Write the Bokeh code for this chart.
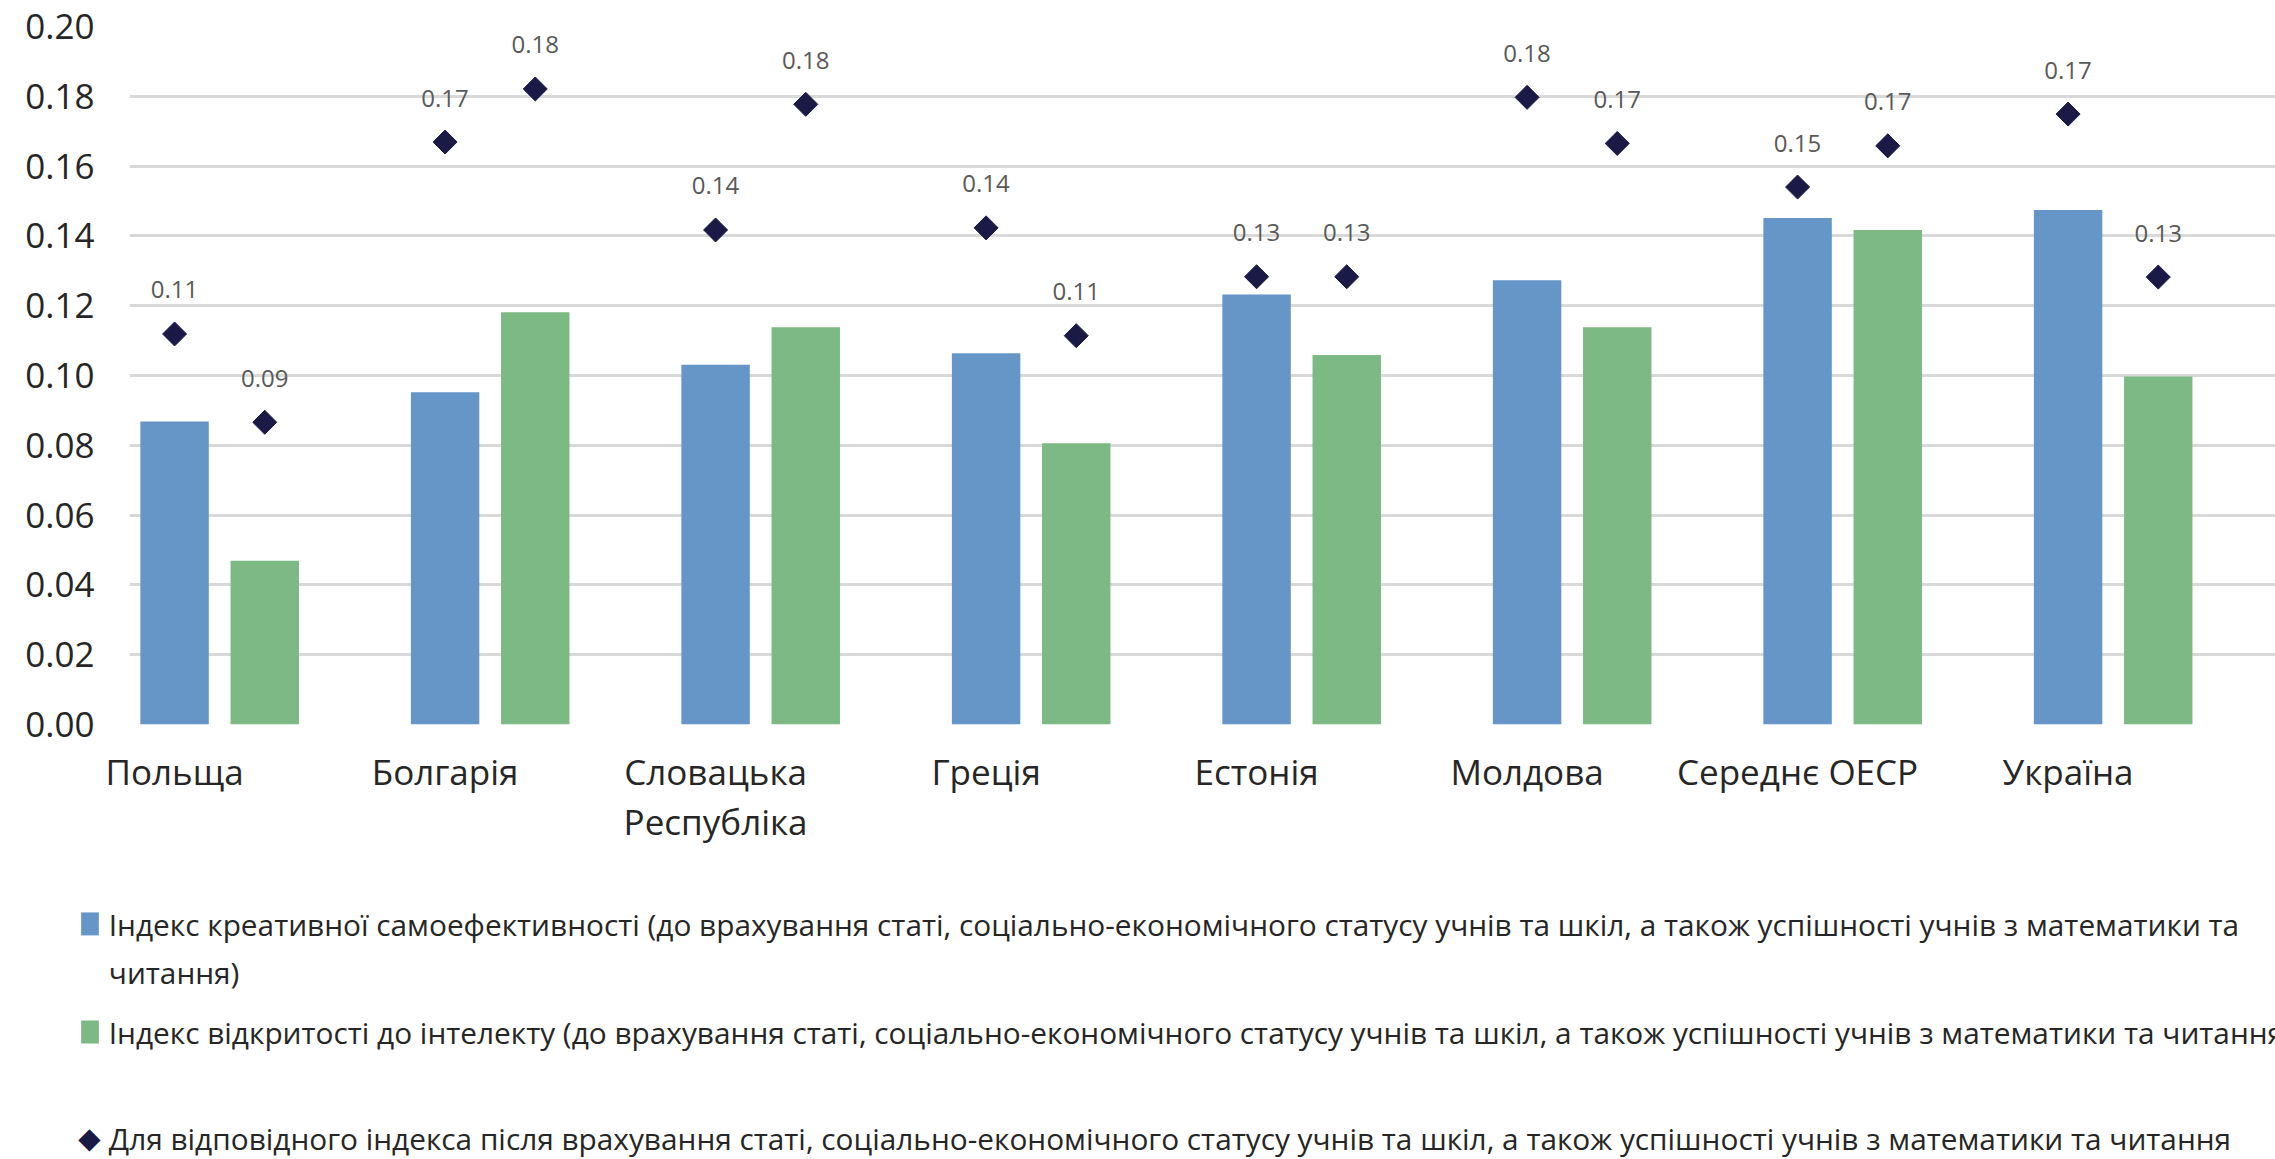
import math
from bokeh.plotting import figure
from bokeh.models import (Range1d, FixedTicker, NumeralTickFormatter, LinearAxis, Label)
from bokeh.embed import file_html
from bokeh.resources import INLINE
from bokeh.core.properties import value

# ---------------- data ----------------
categories = ["Польща", "Болгарія", "Словацька Республіка", "Греція",
              "Естонія", "Молдова", "Середнє ОЕСР", "Україна"]
creative_before = [0.0868, 0.0952, 0.1031, 0.1064, 0.1232, 0.1273, 0.1451, 0.1474]
openness_before = [0.0469, 0.1181, 0.1138, 0.0806, 0.1059, 0.1138, 0.1417, 0.0997]
creative_after = [0.1119, 0.1669, 0.1417, 0.1423, 0.1283, 0.1797, 0.1540, 0.1749]
openness_after = [0.0866, 0.1821, 0.1777, 0.1114, 0.1283, 0.1665, 0.1658, 0.1282]
y_ticks = [0.00, 0.02, 0.04, 0.06, 0.08, 0.10, 0.12, 0.14, 0.16, 0.18, 0.20]
legend_lines = [
    "Індекс креативної самоефективності (до врахування статі, соціально-економічного статусу учнів та шкіл, а також успішності учнів з математики та",
    "читання)",
    "Індекс відкритості до інтелекту (до врахування статі, соціально-економічного статусу учнів та шкіл, а також успішності учнів з математики та читання)",
    "Для відповідного індекса після врахування статі, соціально-економічного статусу учнів та шкіл, а також успішності учнів з математики та читання",
]

# ---------------- style ----------------
BLUE = "#6596c7"
GREEN = "#7db985"
NAVY = "#1b1a47"
GRID = "#d9d9d9"
TXT = "#262626"
LBL = "#595959"
FONT = "Open Sans"

W, H = 2275, 1159
LEFT, TOP, BOTTOM = 129, 26, 724          # frame edges in canvas pixels
PX_PER_CAT = 270.5
FRAME_W = W - LEFT
X0 = -1 / 6
Y_MAX = 0.20

n = len(categories)
xb = [i for i in range(n)]
xg = [i + 1 / 3 for i in range(n)]
BAR_W = 0.253

p = figure(frame_width=FRAME_W, frame_height=BOTTOM - TOP,
           output_backend="svg", toolbar_location=None,
           x_range=Range1d(X0, X0 + FRAME_W / PX_PER_CAT),
           y_range=Range1d(0, Y_MAX),
           min_border_left=LEFT, min_border_right=0, min_border_top=TOP,
           min_border_bottom=H - BOTTOM, x_axis_type=None)
p.outline_line_color = None
p.background_fill_color = "white"
p.border_fill_color = "white"


def dx(px):  # canvas pixel -> data x (layout helper for the legend)
    return X0 + (px - LEFT) / PX_PER_CAT


def dy(py):  # canvas pixel -> data y (layout helper for the legend)
    return (BOTTOM - py) * Y_MAX / (BOTTOM - TOP)


p.ygrid.ticker = FixedTicker(ticks=y_ticks)
p.ygrid.grid_line_color = GRID
p.ygrid.grid_line_width = 3
p.xgrid.visible = False

ya = p.yaxis[0]
ya.ticker = FixedTicker(ticks=y_ticks)
ya.formatter = NumeralTickFormatter(format="0.00")
ya.axis_line_color = None
ya.major_tick_line_color = None
ya.minor_tick_line_color = None
ya.major_tick_out = 0
ya.major_tick_in = 0
ya.major_label_standoff = 35
ya.major_label_text_font = FONT
ya.major_label_text_font_size = "35px"
ya.major_label_text_color = TXT

# category axis (first line) plus a second axis carrying the wrapped second line
first_lines = {i: (c.split(" ")[0] if c.startswith("Словацька") else c) for i, c in enumerate(categories)}
second_lines = {i: " ".join(c.split(" ")[1:]) for i, c in enumerate(categories) if c.startswith("Словацька")}

xa1 = LinearAxis(ticker=FixedTicker(ticks=list(range(n))), major_label_overrides=first_lines)
xa2 = LinearAxis(ticker=FixedTicker(ticks=list(second_lines.keys())), major_label_overrides=second_lines)
for ax, so in ((xa1, 23), (xa2, 0)):
    ax.axis_line_color = None
    ax.major_tick_line_color = None
    ax.minor_tick_line_color = None
    ax.major_tick_out = 0
    ax.major_tick_in = 0
    ax.major_label_standoff = so
    ax.major_label_text_font = FONT
    ax.major_label_text_font_size = "35px"
    ax.major_label_text_color = TXT
p.add_layout(xa1, "below")
p.add_layout(xa2, "below")

p.vbar(x=xb, top=creative_before, width=BAR_W, bottom=0, fill_color=BLUE, line_color=None)
p.vbar(x=xg, top=openness_before, width=BAR_W, bottom=0, fill_color=GREEN, line_color=None)

for xs, vals in ((xb, creative_after), (xg, openness_after)):
    p.scatter(x=xs, y=vals, marker="square", angle=math.pi / 4, size=17,
              fill_color=NAVY, line_color=NAVY)
    p.text(x=xs, y=vals, text=[f"{v:.2f}" for v in vals], text_align="center",
           text_baseline="middle", y_offset=-44, text_font=value(FONT),
           text_font_size="24px", text_color=LBL)

# ---------------- legend (labels in the panel below the plot area) ----------------
for col, cy in ((BLUE, 923.4), (GREEN, 1031.5)):
    p.add_layout(Label(x=dx(89.5), y=dy(cy), text="    ", text_align="center",
                       text_baseline="middle", text_font=FONT, text_font_size="17px",
                       text_color=col, background_fill_color=col,
                       background_fill_alpha=1.0), "below")
p.add_layout(Label(x=dx(89), y=dy(1137), text="\u25c6", text_align="center",
                   text_baseline="middle", text_font="DejaVu Sans", text_font_size="29px",
                   text_color=NAVY), "below")
for txt, base in zip(legend_lines, (924, 972, 1032, 1138)):
    p.add_layout(Label(x=dx(108.3), y=dy(base), text=txt, text_align="left",
                       text_baseline="alphabetic", text_font=FONT,
                       text_font_size="29.8px", text_color=TXT), "below")

open("out.html", "w").write(file_html(p, INLINE))
